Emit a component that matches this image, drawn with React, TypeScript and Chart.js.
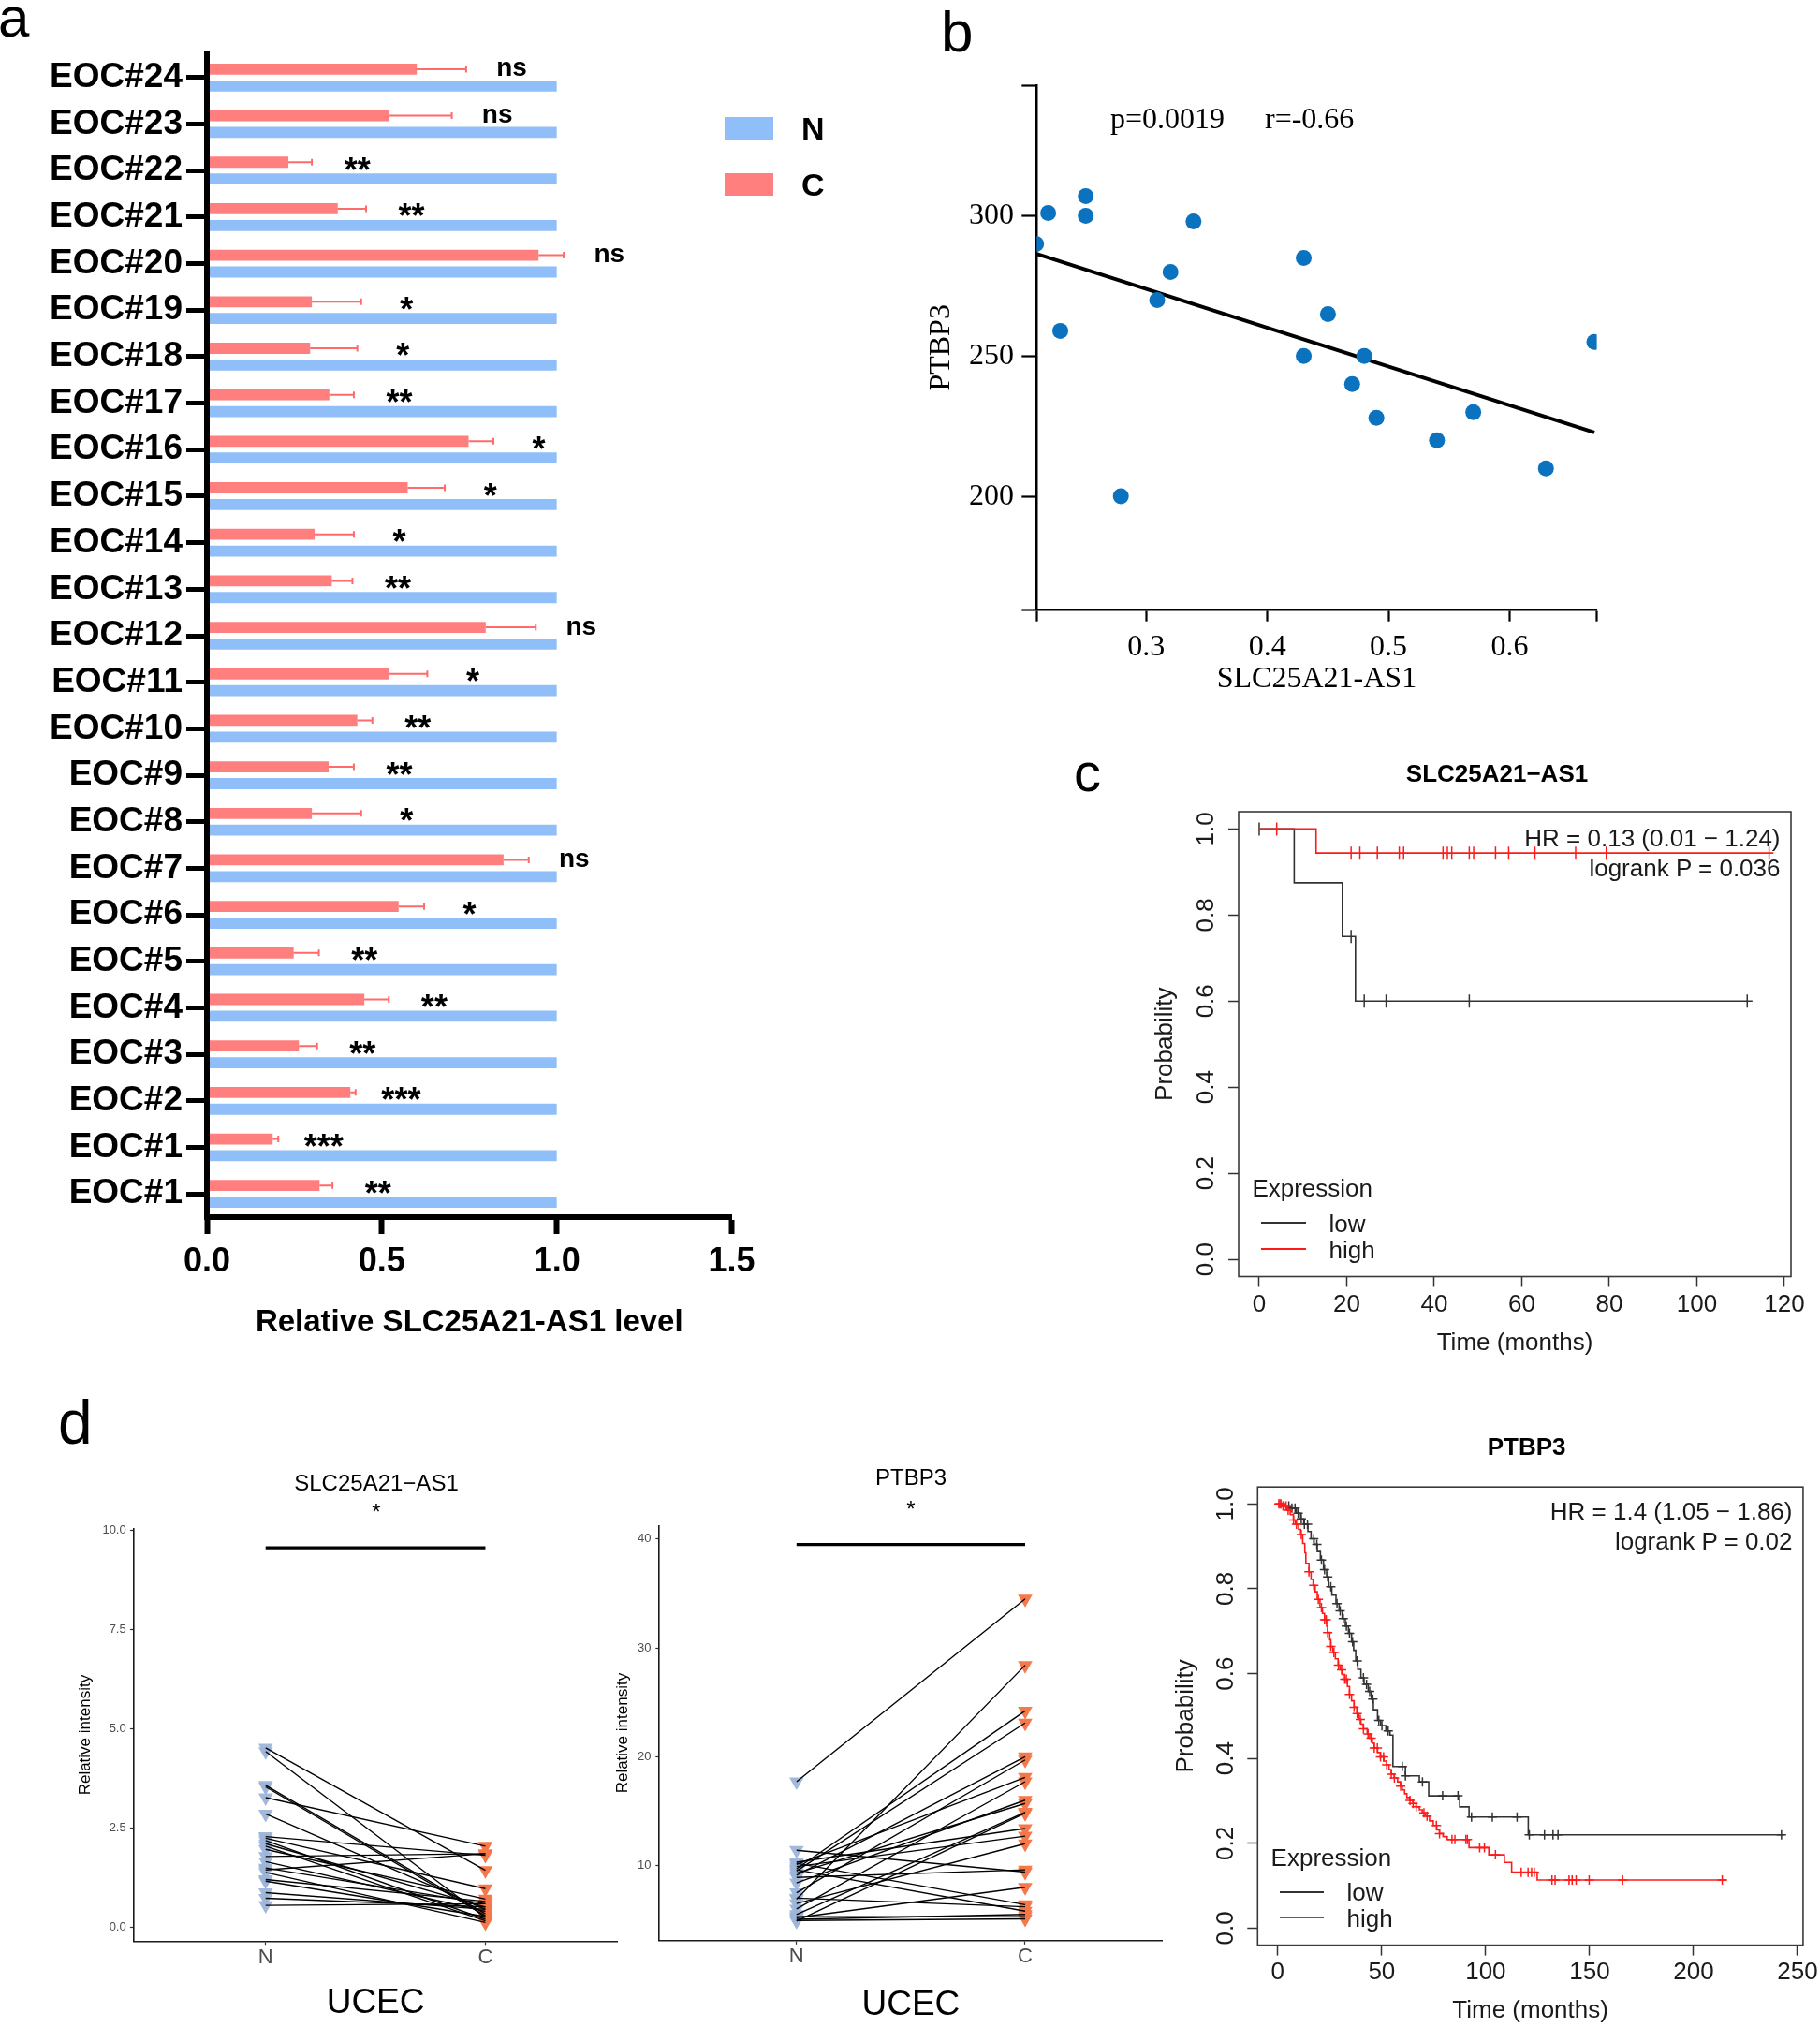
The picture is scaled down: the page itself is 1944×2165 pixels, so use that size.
import React, { useEffect, useRef } from 'react';
import { Chart, registerables } from 'chart.js';

Chart.register(...registerables);

const SANS = "'Liberation Sans', Arial, Helvetica, sans-serif";
const SERIF = "'Liberation Serif', 'Times New Roman', Times, serif";
Chart.defaults.font.family = SANS;
Chart.defaults.color = '#000';

// ================= Panel a : relative SLC25A21-AS1 level =================
const aCategories = ['EOC#24', 'EOC#23', 'EOC#22', 'EOC#21', 'EOC#20', 'EOC#19', 'EOC#18', 'EOC#17', 'EOC#16', 'EOC#15', 'EOC#14', 'EOC#13', 'EOC#12', 'EOC#11', 'EOC#10', 'EOC#9', 'EOC#8', 'EOC#7', 'EOC#6', 'EOC#5', 'EOC#4', 'EOC#3', 'EOC#2', 'EOC#1', 'EOC#1'];
const aCancer = [0.600, 0.522, 0.233, 0.374, 0.948, 0.300, 0.295, 0.350, 0.748, 0.574, 0.308, 0.357, 0.797, 0.522, 0.430, 0.348, 0.300, 0.848, 0.548, 0.248, 0.450, 0.263, 0.410, 0.188, 0.322];
const aCancerErr = [0.141, 0.178, 0.067, 0.081, 0.072, 0.141, 0.135, 0.070, 0.071, 0.106, 0.112, 0.059, 0.143, 0.108, 0.043, 0.072, 0.141, 0.072, 0.073, 0.072, 0.070, 0.052, 0.015, 0.016, 0.037];
const aNormal = [1, 1, 1, 1, 1, 1, 1, 1, 1, 1, 1, 1, 1, 1, 1, 1, 1, 1, 1, 1, 1, 1, 1, 1, 1];
const aSignif = ['ns', 'ns', '**', '**', 'ns', '*', '*', '**', '*', '*', '*', '**', 'ns', '*', '**', '**', '*', 'ns', '*', '**', '**', '**', '***', '***', '**'];
const aXTicks = [0, 0.5, 1.0, 1.5];

// ================= Panel b : correlation =================
const bX = [0.209, 0.219, 0.250, 0.250, 0.229, 0.279, 0.309, 0.320, 0.339, 0.430, 0.430, 0.450, 0.480, 0.470, 0.490, 0.540, 0.570, 0.630, 0.670];
const bY = [290, 301, 307, 300, 259, 200, 270, 280, 298, 285, 250, 265, 250, 240, 228, 220, 230, 210, 255];
const bFitX = [0.21, 0.67];
const bFitY = [286.4, 222.8];
const bXTicks = [0.3, 0.4, 0.5, 0.6];
const bYTicks = [200, 250, 300];

// ================= Panel c : KM SLC25A21-AS1 =================
const cLowT = [0, 8, 19, 22];
const cLowS = [1.0, 0.875, 0.75, 0.6];
const cLowEnd = 112.7;
const cLowCens = [0, 21, 24, 29, 48, 111.5];
const cHighT = [0, 13];
const cHighS = [1.0, 0.944];
const cHighEnd = 117.5;
const cHighCens = [4, 21, 23, 27, 32, 33, 42, 43, 44, 48, 49, 54, 57, 63, 72.3, 79.3, 116.5];
const cXTicks = [0, 20, 40, 60, 80, 100, 120];
const kmYTicks = [0, 0.2, 0.4, 0.6, 0.8, 1.0];

// ================= Panel d : paired UCEC =================
const dGroups = ['N', 'C'];
const dlN = [4.52, 4.43, 3.58, 3.54, 3.27, 2.86, 2.29, 2.25, 2.19, 2.11, 2.05, 1.97, 1.79, 1.66, 1.50, 1.45, 1.39, 1.21, 1.17, 0.88, 0.74, 0.56];
const dlC = [1.44, 0.25, 0.35, 0.30, 2.05, 0.46, 1.82, 0.98, 0.21, 0.52, 0.17, 0.72, 1.86, 0.41, 0.60, 1.86, 0.13, 0.66, 0.28, 0.46, 0.52, 0.60];
const dlYTicks = [0, 2.5, 5, 7.5, 10];
const dlSig = 9.55;
const dmN = [17.7, 6.9, 9.7, 9.5, 9.1, 7.5, 10.1, 6.0, 8.4, 9.3, 5.5, 4.9, 10.3, 9.9, 6.5, 11.4, 8.9, 5.2, 10.2, 9.6, 5.05, 5.3, 4.95, 7.0];
const dmC = [34.5, 28.4, 24.2, 23.1, 20.0, 19.7, 18.1, 17.7, 16.0, 15.7, 14.9, 14.8, 13.4, 12.7, 12.0, 9.4, 9.6, 8.0, 6.4, 5.8, 5.5, 5.3, 5.1, 6.2];
const dmYTicks = [10, 20, 30, 40];
const dmSig = 39.5;

// ================= Panel d : KM PTBP3 =================
const dLowT = [
  0, 3, 6, 9, 11, 12.5, 14.5, 16, 17.5, 19,
  20.5, 22, 23.5, 24.5, 26, 28, 29.5, 31, 32.5, 34,
  35.5, 36.5, 37.5, 38.5, 40, 41.5, 43.5, 45, 46, 48,
  49.5, 52, 54, 55.4, 61.4, 68.1, 72.6, 87.5, 92, 120.5];
const dLowS = [
  1, 0.995, 0.99, 0.978, 0.965, 0.952, 0.935, 0.918, 0.905, 0.888,
  0.868, 0.845, 0.828, 0.805, 0.785, 0.765, 0.748, 0.73, 0.712, 0.695,
  0.675, 0.655, 0.63, 0.61, 0.59, 0.575, 0.558, 0.54, 0.515, 0.49,
  0.477, 0.465, 0.455, 0.381, 0.359, 0.345, 0.312, 0.286, 0.262, 0.22];
const dLowEnd = 243.5;
const dLowCens = [5.3, 6.8, 8.3, 9.8, 11.3, 12.8, 14.3, 17.3, 18.8, 21, 22.5, 24, 25.5, 28.5, 30, 31.5, 33, 34.5, 36, 38.2, 41.2, 42.7, 44.2, 45.7, 48.6, 50.1, 53.1, 59.9, 61.4, 69.6, 79.3, 86.7, 93.2, 103.2, 115.1, 121, 128.3, 132.4, 134.8, 242.3];
const dHighT = [
  0, 2, 4.5, 6, 7.5, 8.5, 10, 11, 12, 13,
  13.5, 15, 16, 17, 18, 19, 20.3, 21.5, 22.5, 23.5,
  24, 25, 25.5, 26.5, 27.7, 29, 30, 31, 32.2, 33.5,
  34.5, 35.5, 36.7, 38, 39, 40, 41.2, 43, 44.2, 45.5,
  46.4, 48, 49.4, 51, 52.4, 53.5, 54.6, 56, 57.6, 59,
  59.9, 61, 62.1, 63.5, 65, 66.5, 68.1, 69.5, 71, 73,
  74.8, 76.5, 77.8, 79.5, 81.5, 92, 101.5, 109, 112.5, 124.8];
const dHighS = [
  1, 0.995, 0.985, 0.975, 0.962, 0.952, 0.94, 0.928, 0.907, 0.885,
  0.86, 0.84, 0.822, 0.808, 0.793, 0.775, 0.756, 0.742, 0.727, 0.712,
  0.697, 0.68, 0.664, 0.65, 0.635, 0.62, 0.609, 0.598, 0.587, 0.57,
  0.551, 0.536, 0.521, 0.506, 0.492, 0.481, 0.47, 0.458, 0.448, 0.436,
  0.425, 0.414, 0.404, 0.394, 0.385, 0.374, 0.363, 0.354, 0.345, 0.335,
  0.326, 0.317, 0.308, 0.301, 0.294, 0.286, 0.279, 0.272, 0.264, 0.253,
  0.242, 0.232, 0.223, 0.216, 0.209, 0.19, 0.173, 0.155, 0.132, 0.1135];
const dHighEnd = 216;
const dHighCens = [0.5, 1, 1.5, 2.5, 3, 4, 5, 7.6, 9, 11.3, 15, 17.3, 19.5, 21, 22.5, 23.3, 24, 25.5, 27, 29.2, 30.7, 32.2, 33, 34.5, 36.7, 38.2, 39.7, 41.2, 43.4, 44.9, 46.4, 47.9, 49.4, 50.9, 52.4, 54.6, 56.1, 59.1, 63.6, 65.1, 66.6, 70.3, 71.8, 76.3, 77.8, 83.8, 85.2, 90.5, 91.2, 97.1, 99.4, 104.7, 117.1, 120.4, 122.1, 123.4, 131.9, 133.4, 140.1, 141.6, 143.5, 149.8, 165.9, 213.8];
const dXTicks = [0, 50, 100, 150, 200, 250];

// ================= colours =================
const RED_BAR = '#FF7F7F';
const BLUE_BAR = '#8FBEF8';
const ERR_RED = '#FF6A6A';
const DOT_BLUE = '#0A72BE';
const KM_BLACK = '#333333';
const KM_RED = '#FF1A1A';
const N_TRI = 'rgba(157,181,217,0.95)';
const C_TRI = '#F5784A';
const GG_GREY = '#4D4D4D';

// ================= helpers =================
type Rect = { left: number; top: number; width: number; height: number };
type Area = { l: number; t: number; r: number; b: number };

function frame(c: Rect, a: Area) {
  return {
    yWidth: a.l - c.left,
    xHeight: c.top + c.height - a.b,
    padTop: a.t - c.top,
    padRight: c.left + c.width - a.r,
  };
}
const fixTicks = (vals: number[]) => (s: any) => {
  s.ticks = vals.map((v) => ({ value: v }));
};
const base = {
  animation: false,
  responsive: false,
  events: [],
  plugins: { legend: { display: false }, tooltip: { enabled: false } },
};

function stepAt(times: number[], probs: number[], t: number) {
  let v = probs[0];
  for (let i = 0; i < times.length; i++) if (times[i] <= t) v = probs[i];
  return v;
}

const boxPlugin = {
  id: 'kmBox',
  beforeDatasetsDraw(chart: any) {
    const { left, top, right, bottom } = chart.chartArea;
    const ctx = chart.ctx;
    ctx.save();
    ctx.strokeStyle = '#3a3a3a';
    ctx.lineWidth = 1.6;
    ctx.strokeRect(left, top, right - left, bottom - top);
    ctx.restore();
  },
};

// ================= Panel builders =================
const aRect: Rect = { left: 0, top: 0, width: 900, height: 1460 };
const aArea: Area = { l: 221, t: 58, r: 781.5, b: 1300 };

function buildA() {
  const f = frame(aRect, aArea);
  const annot = {
    id: 'aAnnot',
    afterDatasetsDraw(chart: any) {
      const ctx = chart.ctx;
      const xs = chart.scales.x;
      const meta = chart.getDatasetMeta(0);
      ctx.save();
      meta.data.forEach((el: any, i: number) => {
        const y = el.y;
        const x0 = xs.getPixelForValue(aCancer[i]);
        const x1 = xs.getPixelForValue(aCancer[i] + aCancerErr[i]);
        ctx.strokeStyle = ERR_RED;
        ctx.lineWidth = 2;
        ctx.beginPath();
        ctx.moveTo(x0, y);
        ctx.lineTo(x1, y);
        ctx.moveTo(x1, y - 3.5);
        ctx.lineTo(x1, y + 3.5);
        ctx.stroke();
        const lab = aSignif[i];
        const star = lab.charAt(0) === '*';
        const size = star ? 36 : 28;
        ctx.font = `bold ${size}px ${SANS}`;
        ctx.fillStyle = '#000';
        ctx.textAlign = 'center';
        ctx.textBaseline = 'alphabetic';
        const lx = xs.getPixelForValue(aCancer[i] + aCancerErr[i] + 0.13);
        ctx.fillText(lab, lx, y + (star ? 0.57 : 0.27) * size);
      });
      ctx.restore();
    },
  };
  return {
    type: 'bar',
    data: {
      labels: aCategories,
      datasets: [
        { label: 'C', data: aCancer, backgroundColor: RED_BAR, borderWidth: 0, categoryPercentage: 0.72, barPercentage: 0.66 },
        { label: 'N', data: aNormal, backgroundColor: BLUE_BAR, borderWidth: 0, categoryPercentage: 0.72, barPercentage: 0.66 },
      ],
    },
    options: {
      ...base,
      indexAxis: 'y',
      layout: { padding: { top: f.padTop, right: f.padRight, left: 0, bottom: 0 } },
      scales: {
        y: {
          type: 'category',
          position: 'left',
          offset: true,
          afterFit: (s: any) => { s.width = f.yWidth; },
          grid: { display: true, drawOnChartArea: false, drawTicks: true, tickLength: 22, tickWidth: 5, tickColor: '#000', offset: false },
          border: { display: true, width: 6, color: '#000', z: 1 },
          ticks: { font: { family: SANS, size: 37, weight: 'bold' }, color: '#000', padding: 4, autoSkip: false },
        },
        x: {
          type: 'linear',
          position: 'bottom',
          min: 0,
          max: 1.5,
          bounds: 'data',
          afterBuildTicks: fixTicks(aXTicks),
          afterFit: (s: any) => { s.height = f.xHeight; },
          grid: { drawOnChartArea: false, tickLength: 18, tickWidth: 6, tickColor: '#000' },
          border: { display: true, width: 6, color: '#000', z: 1 },
          ticks: { font: { family: SANS, size: 36, weight: 'bold' }, color: '#000', padding: 8, autoSkip: false, minRotation: 0, maxRotation: 0, callback: (v: any) => Number(v).toFixed(1) },
          title: { display: true, text: 'Relative SLC25A21-AS1 level', font: { family: SANS, size: 33, weight: 'bold' }, color: '#000', padding: { top: 0, bottom: 27.7 } },
        },
      },
    },
    plugins: [annot],
  };
}

const bRect: Rect = { left: 980, top: 60, width: 780, height: 700 };
const bArea: Area = { l: 1107.3, t: 91, r: 1705.6, b: 651.7 };

function buildB() {
  const f = frame(bRect, bArea);
  const serifTick = { family: SERIF, size: 32 };
  return {
    type: 'scatter',
    data: {
      datasets: [
        {
          data: bX.map((x, i) => ({ x, y: bY[i] })),
          pointRadius: 8.5,
          pointBackgroundColor: DOT_BLUE,
          pointBorderWidth: 0,
        },
        {
          data: bFitX.map((x, i) => ({ x, y: bFitY[i] })),
          showLine: true,
          borderColor: '#000',
          borderWidth: 4,
          pointRadius: 0,
        },
      ],
    },
    options: {
      ...base,
      layout: { padding: { top: f.padTop, right: f.padRight, left: 0, bottom: 0 } },
      scales: {
        x: {
          type: 'linear',
          min: 0.2095,
          max: 0.672,
          bounds: 'data',
          afterBuildTicks: fixTicks([0.2095, ...bXTicks, 0.672]),
          afterFit: (s: any) => { s.height = f.xHeight; },
          grid: { drawOnChartArea: false, tickLength: 12, tickWidth: 2.2, tickColor: '#000' },
          border: { display: true, width: 2.5, color: '#000' },
          ticks: { font: serifTick, color: '#000', padding: 9, autoSkip: false, minRotation: 0, maxRotation: 0, callback: (v: any) => (bXTicks.some((t) => Math.abs(t - v) < 1e-9) ? Number(v).toFixed(1) : '') },
          title: { display: true, text: 'SLC25A21-AS1', font: { family: SERIF, size: 32 }, color: '#000', padding: { top: 0, bottom: 15.5 } },
        },
        y: {
          type: 'linear',
          min: 159.4,
          max: 346.6,
          bounds: 'data',
          afterBuildTicks: fixTicks([159.4, ...bYTicks, 346.6]),
          afterFit: (s: any) => { s.width = f.yWidth; },
          grid: { drawOnChartArea: false, tickLength: 16, tickWidth: 2.2, tickColor: '#000' },
          border: { display: true, width: 2.5, color: '#000' },
          ticks: { font: serifTick, color: '#000', padding: 8.3, autoSkip: false, callback: (v: any) => (bYTicks.some((t) => Math.abs(t - v) < 1e-9) ? String(v) : '') },
          title: { display: true, text: 'PTBP3', font: { family: SERIF, size: 32 }, color: '#000', padding: { top: 6.8, bottom: 0 } },
        },
      },
    },
  };
}

type KMSeries = { t: number[]; s: number[]; end: number; cens: number[]; color: string; mark: string; markR: number };

function buildKM(rect: Rect, area: Area, xMin: number, xMax: number, xTicks: number[], series: KMSeries[], pads: { xTitle: number; yTitle: number; xLab: number; yLab: number }) {
  const f = frame(rect, area);
  const datasets: any[] = [];
  series.forEach((sr) => {
    datasets.push({
      data: sr.cens.map((t) => ({ x: t, y: stepAt(sr.t, sr.s, t) })),
      showLine: false,
      pointStyle: sr.mark,
      pointRotation: sr.mark === 'line' ? 90 : 0,
      pointRadius: sr.markR,
      pointBorderColor: sr.color,
      pointBorderWidth: 1.5,
      pointBackgroundColor: sr.color,
    });
    datasets.push({
      data: sr.t.map((t, i) => ({ x: t, y: sr.s[i] })).concat([{ x: sr.end, y: sr.s[sr.s.length - 1] }]),
      showLine: true,
      stepped: true,
      borderColor: sr.color,
      borderWidth: 1.6,
      pointRadius: 0,
      fill: false,
    });
  });
  const tickFont = { family: SANS, size: 26 };
  return {
    type: 'scatter',
    data: { datasets },
    options: {
      ...base,
      layout: { padding: { top: f.padTop, right: f.padRight, left: 0, bottom: 0 } },
      scales: {
        x: {
          type: 'linear',
          min: xMin,
          max: xMax,
          bounds: 'data',
          afterBuildTicks: fixTicks(xTicks),
          afterFit: (s: any) => { s.height = f.xHeight; },
          grid: { drawOnChartArea: false, tickLength: 11, tickWidth: 1.5, tickColor: '#333' },
          border: { display: false },
          ticks: { font: tickFont, color: '#1a1a1a', padding: pads.xLab, autoSkip: false, minRotation: 0, maxRotation: 0, callback: (v: any) => String(v) },
          title: { display: true, text: 'Time (months)', font: { family: SANS, size: 26 }, color: '#1a1a1a', padding: { top: 0, bottom: pads.xTitle } },
        },
        y: {
          type: 'linear',
          min: -0.04,
          max: 1.04,
          bounds: 'data',
          afterBuildTicks: fixTicks(kmYTicks),
          afterFit: (s: any) => { s.width = f.yWidth; },
          grid: { drawOnChartArea: false, tickLength: 11, tickWidth: 1.5, tickColor: '#333' },
          border: { display: false },
          ticks: { font: tickFont, color: '#1a1a1a', padding: pads.yLab, autoSkip: false, minRotation: 90, maxRotation: 90, crossAlign: 'center', callback: (v: any) => Number(v).toFixed(1) },
          title: { display: true, text: 'Probability', font: { family: SANS, size: 26 }, color: '#1a1a1a', padding: { top: pads.yTitle, bottom: 0 } },
        },
      },
    },
    plugins: [boxPlugin],
  };
}

const cRect: Rect = { left: 1200, top: 780, width: 744, height: 680 };
const cArea: Area = { l: 1323, t: 867, r: 1913, b: 1363.5 };
const buildC = () =>
  buildKM(cRect, cArea, -4.7, 121.5, cXTicks, [
    { t: cHighT, s: cHighS, end: cHighEnd, cens: cHighCens, color: KM_RED, mark: 'line', markR: 7 },
    { t: cLowT, s: cLowS, end: cLowEnd, cens: cLowCens, color: KM_BLACK, mark: 'line', markR: 7 },
  ], { xTitle: 9.6, yTitle: 29.4, xLab: 3.5, yLab: 5.2 });

const drRect: Rect = { left: 1240, top: 1500, width: 704, height: 665 };
const drArea: Area = { l: 1343.3, t: 1588.2, r: 1927, b: 2077.6 };
const buildDR = () =>
  buildKM(drRect, drArea, -9.7, 252.7, dXTicks, [
    { t: dHighT, s: dHighS, end: dHighEnd, cens: dHighCens, color: KM_RED, mark: 'cross', markR: 5 },
    { t: dLowT, s: dLowS, end: dLowEnd, cens: dLowCens, color: KM_BLACK, mark: 'cross', markR: 5 },
  ], { xTitle: 1.8, yTitle: 11.4, xLab: 2.2, yLab: 4.6 });

type PairedCfg = {
  rect: Rect; area: Area; nVals: number[]; cVals: number[]; sig: number;
  yMin: number; yMax: number; yTicks: number[]; yFmt: (v: number) => string;
  yTitlePad: number; yLabPad: number; xLabPad: number; xTitlePad: number;
};

function buildPaired(p: PairedCfg) {
  const f = frame(p.rect, p.area);
  const datasets: any[] = [];
  datasets.push({
    data: [{ x: 1, y: p.sig }, { x: 2, y: p.sig }],
    showLine: true, borderColor: '#000', borderWidth: 3.2, pointRadius: 0,
  });
  p.nVals.forEach((n, i) => {
    datasets.push({
      data: [{ x: 1, y: n }, { x: 2, y: p.cVals[i] }],
      showLine: true, borderColor: '#000', borderWidth: 1.4, pointRadius: 0,
    });
  });
  datasets.push({
    data: p.nVals.map((v) => ({ x: 1, y: v })),
    pointStyle: 'triangle', pointRotation: 180, pointRadius: 9,
    pointBackgroundColor: N_TRI, pointBorderWidth: 0,
  });
  datasets.push({
    data: p.cVals.map((v) => ({ x: 2, y: v })),
    pointStyle: 'triangle', pointRotation: 180, pointRadius: 9,
    pointBackgroundColor: C_TRI, pointBorderWidth: 0,
  });
  return {
    type: 'scatter',
    data: { datasets },
    options: {
      ...base,
      layout: { padding: { top: f.padTop, right: f.padRight, left: 0, bottom: 0 } },
      scales: {
        x: {
          type: 'linear', min: 0.4, max: 2.6, bounds: 'data',
          afterBuildTicks: fixTicks([1, 2]),
          afterFit: (s: any) => { s.height = f.xHeight; },
          grid: { drawOnChartArea: false, tickLength: 4, tickWidth: 1.2, tickColor: '#333' },
          border: { display: true, width: 1.6, color: '#1a1a1a' },
          ticks: { font: { family: SANS, size: 22 }, color: GG_GREY, padding: p.xLabPad, autoSkip: false, minRotation: 0, maxRotation: 0, callback: (v: any) => dGroups[Math.round(Number(v)) - 1] },
          title: { display: true, text: 'UCEC', font: { family: SANS, size: 37 }, color: '#000', padding: { top: 0, bottom: p.xTitlePad } },
        },
        y: {
          type: 'linear', min: p.yMin, max: p.yMax, bounds: 'data',
          afterBuildTicks: fixTicks(p.yTicks),
          afterFit: (s: any) => { s.width = f.yWidth; },
          grid: { drawOnChartArea: false, tickLength: 4, tickWidth: 1.2, tickColor: '#333' },
          border: { display: true, width: 1.6, color: '#1a1a1a' },
          ticks: { font: { family: SANS, size: 13 }, color: GG_GREY, padding: p.yLabPad, autoSkip: false, callback: (v: any) => p.yFmt(Number(v)) },
          title: { display: true, text: 'Relative intensity', font: { family: SANS, size: 17 }, color: '#000', padding: { top: p.yTitlePad, bottom: 0 } },
        },
      },
    },
  };
}

const dlRect: Rect = { left: 0, top: 1560, width: 680, height: 605 };
const dlArea: Area = { l: 142.9, t: 1632.9, r: 659.3, b: 2073.3 };
const buildDL = () => buildPaired({
  rect: dlRect, area: dlArea, nVals: dlN, cVals: dlC, sig: dlSig,
  yMin: -0.339, yMax: 10.028, yTicks: dlYTicks, yFmt: (v) => v.toFixed(1),
  yTitlePad: 81.6, yLabPad: 4.2, xLabPad: 0.2, xTitlePad: 3.5,
});

const dmRect: Rect = { left: 640, top: 1560, width: 620, height: 605 };
const dmArea: Area = { l: 704.3, t: 1629.4, r: 1241.5, b: 2072.8 };
const buildDM = () => buildPaired({
  rect: dmRect, area: dmArea, nVals: dmN, cVals: dmC, sig: dmSig,
  yMin: 3.09, yMax: 41.24, yTicks: dmYTicks, yFmt: (v) => String(v),
  yTitlePad: 14.7, yLabPad: 4.8, xLabPad: 0, xTitlePad: 1.5,
});

// ================= React components =================
function ChartCanvas({ rect, build }: { rect: Rect; build: () => any }) {
  const ref = useRef<HTMLCanvasElement | null>(null);
  useEffect(() => {
    if (!ref.current) return;
    const chart = new Chart(ref.current, build());
    return () => chart.destroy();
  }, []);
  return (
    <canvas
      ref={ref}
      width={rect.width}
      height={rect.height}
      style={{ position: 'absolute', left: rect.left, top: rect.top, width: rect.width, height: rect.height }}
    />
  );
}

type TxtProps = { x: number; y: number; text: string; size: number; weight?: string | number; family?: string; anchor?: 'start' | 'middle' | 'end'; color?: string };
function Txt({ x, y, text, size, weight = 'normal', family = SANS, anchor = 'start', color = '#000' }: TxtProps) {
  const tx = anchor === 'middle' ? '-50%' : anchor === 'end' ? '-100%' : '0';
  return (
    <div
      style={{
        position: 'absolute', left: x, top: y, transform: `translate(${tx}, -50%)`,
        fontFamily: family, fontSize: size, fontWeight: weight as any, lineHeight: `${size}px`,
        whiteSpace: 'nowrap', color,
      }}
    >
      {text}
    </div>
  );
}

function Box({ x, y, w, h, color }: { x: number; y: number; w: number; h: number; color: string }) {
  return <div style={{ position: 'absolute', left: x, top: y, width: w, height: h, background: color }} />;
}

export default function App() {
  return (
    <div style={{ position: 'absolute', left: 0, top: 0, width: 1944, height: 2165, background: '#fff', overflow: 'hidden' }}>
      {/* panel letters */}
      <Txt x={-2} y={18.5} text="a" size={60} />
      <Txt x={1005} y={33.7} text="b" size={62} />
      <Txt x={1147} y={825} text="c" size={58} />
      <Txt x={62} y={1519} text="d" size={66} />

      {/* panel a */}
      <ChartCanvas rect={aRect} build={buildA} />
      <Box x={774} y={125} w={52} h={24} color={BLUE_BAR} />
      <Box x={774} y={185} w={52} h={24} color={RED_BAR} />
      <Txt x={856} y={137} text="N" size={34} weight="bold" />
      <Txt x={856} y={197} text="C" size={34} weight="bold" />

      {/* panel b */}
      <ChartCanvas rect={bRect} build={buildB} />
      <Txt x={1186} y={125.5} text="p=0.0019" size={32} family={SERIF} />
      <Txt x={1351} y={125.5} text="r=-0.66" size={32} family={SERIF} />

      {/* panel c */}
      <ChartCanvas rect={cRect} build={buildC} />
      <Txt x={1599} y={825.5} text="SLC25A21−AS1" size={26} weight="bold" anchor="middle" />
      <Txt x={1901.5} y={894.6} text="HR = 0.13 (0.01 − 1.24)" size={26} anchor="end" color="#1a1a1a" />
      <Txt x={1901.5} y={927} text="logrank P = 0.036" size={26} anchor="end" color="#1a1a1a" />
      <Txt x={1337.4} y={1268.8} text="Expression" size={26} color="#1a1a1a" />
      <Box x={1346.7} y={1305} w={48.2} h={1.8} color={KM_BLACK} />
      <Box x={1346.7} y={1333.2} w={48.2} h={1.8} color={KM_RED} />
      <Txt x={1419.5} y={1306.5} text="low" size={26} color="#1a1a1a" />
      <Txt x={1419.5} y={1334.8} text="high" size={26} color="#1a1a1a" />

      {/* panel d */}
      <ChartCanvas rect={dlRect} build={buildDL} />
      <Txt x={402} y={1584} text="SLC25A21−AS1" size={24} anchor="middle" />
      <Txt x={402} y={1615} text="*" size={24} anchor="middle" />
      <ChartCanvas rect={dmRect} build={buildDM} />
      <Txt x={973} y={1578.3} text="PTBP3" size={24} anchor="middle" />
      <Txt x={973} y={1612} text="*" size={24} anchor="middle" />
      <ChartCanvas rect={drRect} build={buildDR} />
      <Txt x={1630.7} y={1544.5} text="PTBP3" size={26} weight="bold" anchor="middle" />
      <Txt x={1914.5} y={1614} text="HR = 1.4 (1.05 − 1.86)" size={26} anchor="end" color="#1a1a1a" />
      <Txt x={1914.5} y={1645.8} text="logrank P = 0.02" size={26} anchor="end" color="#1a1a1a" />
      <Txt x={1357.6} y={1983.5} text="Expression" size={26} color="#1a1a1a" />
      <Box x={1367} y={2019.9} w={47} h={1.8} color={KM_BLACK} />
      <Box x={1367} y={2047.4} w={47} h={1.8} color={KM_RED} />
      <Txt x={1438.5} y={2020.5} text="low" size={26} color="#1a1a1a" />
      <Txt x={1438.5} y={2048.7} text="high" size={26} color="#1a1a1a" />
    </div>
  );
}
